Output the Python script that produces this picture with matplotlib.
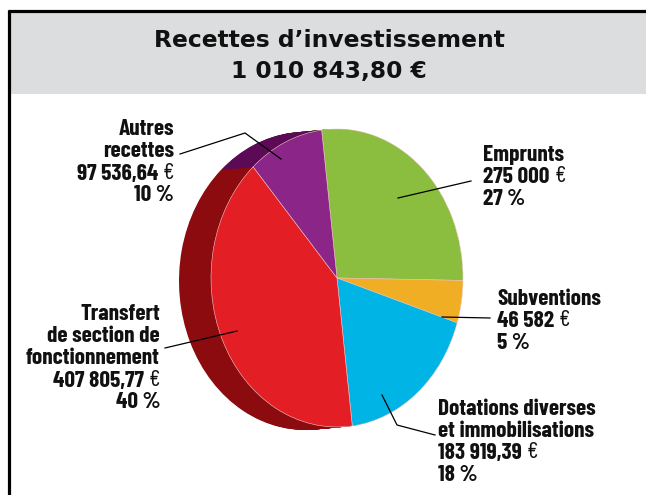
import matplotlib

matplotlib.use("Agg")

import matplotlib.pyplot as plt
import numpy as np

# data
names = ["Emprunts", "Subventions", "Dotations diverses\net immobilisations",
         "Transfert\nde section de\nfonctionnement", "Autres\nrecettes"]
amounts = [275000, 46582, 183919.39, 407805.77, 97536.64]
amount_labels = ["275 000", "46 582", "183 919,39", "407 805,77", "97 536,64"]
percents = [27, 5, 18, 40, 10]
colors = ["#8bbd3f", "#f0ae25", "#00b5e6", "#e31e25", "#8b2587"]
side_colors = ["#55761f", "#9a6c10", "#00708e", "#8c0b0e", "#5c0a55"]
title = "Recettes d\u2019investissement"
total_label = "1 010 843,80 \u20ac"

W, H = 646, 495
cx, cy, rx, ry = 337, 278, 126, 149
depth_px = 32

fig = plt.figure(figsize=(W / 100, H / 100), dpi=100)
ax = fig.add_axes([0, 0, 1, 1])
ax.set_xlim(0, W)
ax.set_ylim(H, 0)
ax.axis("off")

# title box and frame
title_font = ["DejaVu Sans"]
ax.add_patch(plt.Rectangle((9, 11), W, 83, facecolor="#dcdddf", edgecolor="none"))
ax.plot([8, W], [11, 11], color="black", lw=2.3, solid_capstyle="butt")
ax.plot([9, 9], [10, H], color="black", lw=2.3, solid_capstyle="butt")
ax.text(329, 47, title, ha="center", va="baseline", fontsize=16.8,
        fontweight="bold", family=title_font, color="#111111")
ax.text(329, 78, total_label, ha="center", va="baseline", fontsize=16.8,
        fontweight="bold", family=title_font, color="#111111")

# pie axes: unit circle maps to the tilted ellipse
axp = fig.add_axes([0, 0, 1, 1])
for k in np.linspace(1, 0.02, 40):
    axp.pie(amounts, colors=side_colors, startangle=97,
            counterclock=False, radius=1,
            center=(-k * depth_px / rx, -k * 3 / ry),
            wedgeprops=dict(linewidth=0))
axp.pie(amounts, colors=colors, startangle=97, counterclock=False, radius=1,
        wedgeprops=dict(linewidth=0.4, edgecolor="#f3c9c9"))
axp.set_aspect("auto")
axp.set_xlim((0 - cx) / rx, (W - cx) / rx)
axp.set_ylim(-(H - cy) / ry, cy / ry)
axp.axis("off")

# labels
fam = ["Barlow Condensed", "DejaVu Sans"]
fs = 16.8
lh = 22
kw = dict(fontsize=fs, family=fam, color="#111111", zorder=5)


def block(x, y0, lines, amount, ha):
    n = len(lines)
    for i, s in enumerate(lines):
        ax.text(x, y0 + i * lh, s, ha=ha, va="baseline", fontweight="bold", **kw)
    ya = y0 + n * lh
    if ha == "left":
        t = ax.text(x, ya, amount, ha="left", va="baseline", fontweight="bold", **kw)
        ax.annotate("\u20ac", xy=(1, 0), xycoords=t, xytext=(3.5, 0),
                    textcoords="offset points", ha="left", va="bottom",
                    fontweight="normal", **kw)
    else:
        e = ax.text(x, ya, "\u20ac", ha="right", va="baseline", fontweight="normal", **kw)
        ax.annotate(amount, xy=(0, 0), xycoords=e, xytext=(-3.5, 0),
                    textcoords="offset points", ha="right", va="bottom",
                    fontweight="bold", **kw)
    return ya + lh


label_pos = [(483, 161, "left"), (497, 305, "left"), (438, 415, "left"),
             (160, 320, "right"), (174, 135, "right")]
for (x, y0, ha), n, a, p in zip(label_pos, names, amount_labels, percents):
    yp = block(x, y0, n.split("\n"), a, ha)
    ax.text(x, yp, f"{p} %", ha=ha, va="baseline", fontweight="bold", **kw)

leaders = [
    [(398, 198), (471, 181)],
    [(442, 317), (490, 318)],
    [(382, 395), (397, 425), (435, 435)],
    [(237, 331), (165, 348)],
    [(281, 159), (245, 133), (180, 154)],
]
for pts in leaders:
    xs, ys = zip(*pts)
    ax.plot(xs, ys, color="black", lw=0.9, zorder=6)
ax.set_zorder(2)
axp.set_zorder(1)
ax.patch.set_visible(False)

fig.savefig("out.png", dpi=100)
